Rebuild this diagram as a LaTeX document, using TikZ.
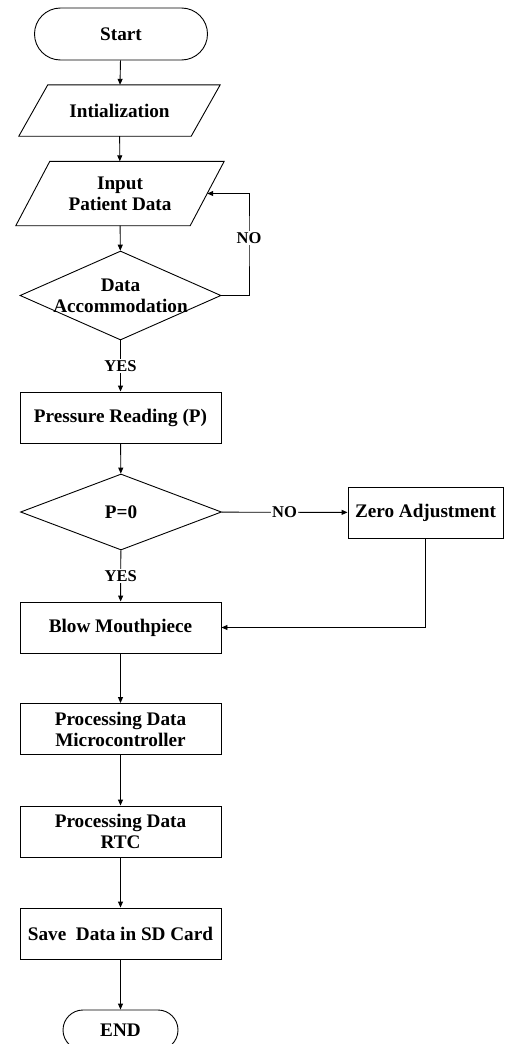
\documentclass[tikz,border=0pt]{standalone}
\usepackage{fontspec}
\setmainfont{Liberation Serif}
\usepackage{tikz}
\usepackage{xcolor}
\usetikzlibrary{arrows.meta, positioning, calc, shapes.geometric}
\definecolor{darktext}{HTML}{000000}

\begin{document}
\begin{tikzpicture}[x=1pt, y=-1pt,
            font=\fontsize{19.2}{21}\selectfont\bfseries,
            line/.style={darktext, line width=0.9pt, -{Triangle[length=6pt, width=5pt]}},
            term/.style={draw=darktext, line width=0.9pt, rectangle, rounded corners=26pt, minimum width=173pt, minimum height=52pt},
            io/.style={rectangle, inner sep=1pt, align=center},
            proc/.style={draw=darktext, line width=0.9pt, rectangle, minimum width=201pt, minimum height=51pt, inner sep=2pt, align=center},
            dec/.style={draw=darktext, line width=0.9pt, diamond, minimum width=201pt, inner sep=0pt},
            lbl/.style={font=\fontsize{16.5}{18}\selectfont\bfseries, fill=white, inner sep=1pt}]
            \useasboundingbox (0,0) rectangle (509,1044);
            % Start and input
            \node[term] (start) at (121,34) {Start};
            \node[io, minimum width=201pt, minimum height=51pt] (init) at (119.5,110.5) {Intialization};
            \node[io, minimum width=208pt, minimum height=64pt] (inp) at (120,193.5) {Input\\Patient Data};
            \foreach \n/\s in {init/29, inp/34} {
                \draw[darktext, line width=0.9pt] ($(\n.north west)+(\s,0)$) -- (\n.north east)
                    -- ($(\n.south east)-(\s,0)$) -- (\n.south west) -- cycle;
            }
            \coordinate (inpr) at ($(inp.east)+(-17,0)$);
            \node[dec, minimum height=89pt] (acc) at (120.5,295.5) {};
            \node[align=center] (acctxt) at (acc) {Data\\Accommodation};
            \coordinate (loop) at (249,238);
            % Pressure
            \node[proc] (pres) at (120.5,417.5) {Pressure Reading (P)};
            \node[dec, minimum height=76pt] (pz) at (121,512) {};
            \node (pztxt) at (pz) {P=0};
            \node[proc, minimum width=155pt] (zero) at (425.5,512.5) {Zero Adjustment};
            % Processing
            \node[proc] (blow) at (120.5,627.5) {Blow Mouthpiece};
            \node[proc] (mcu) at (120.5,729) {Processing Data\\Microcontroller};
            \node[proc] (rtc) at (120.5,831.5) {Processing Data\\RTC};
            \node[proc] (save) at (120.5,933.5) {Save~~Data in SD Card};
            \node[term, minimum width=115pt, minimum height=40pt, rounded corners=20pt] (fin) at (120.5,1030) {END};
            % Connectors
            \draw[line] (start) -- (init);
            \draw[line] (init) -- (inp);
            \draw[line] (inp) -- (acc);
            \draw[line] (acc.east) -| (loop) |- (inpr);
            \node[lbl] (no1) at (loop) {NO};
            \draw[line] (acc) -- node[lbl] (yes1) {YES} (pres);
            \draw[line] (pres) -- (pz);
            \draw[line] (pz) -- node[lbl] (no2) {NO} (zero);
            \draw[line] (pz) -- node[lbl] (yes2) {YES} (blow);
            \draw[line] (zero) |- (blow);
            \draw[line] (blow) -- (mcu);
            \draw[line] (mcu) -- (rtc);
            \draw[line] (rtc) -- (save);
            \draw[line] (save) -- (fin);
        \end{tikzpicture}
\end{document}
